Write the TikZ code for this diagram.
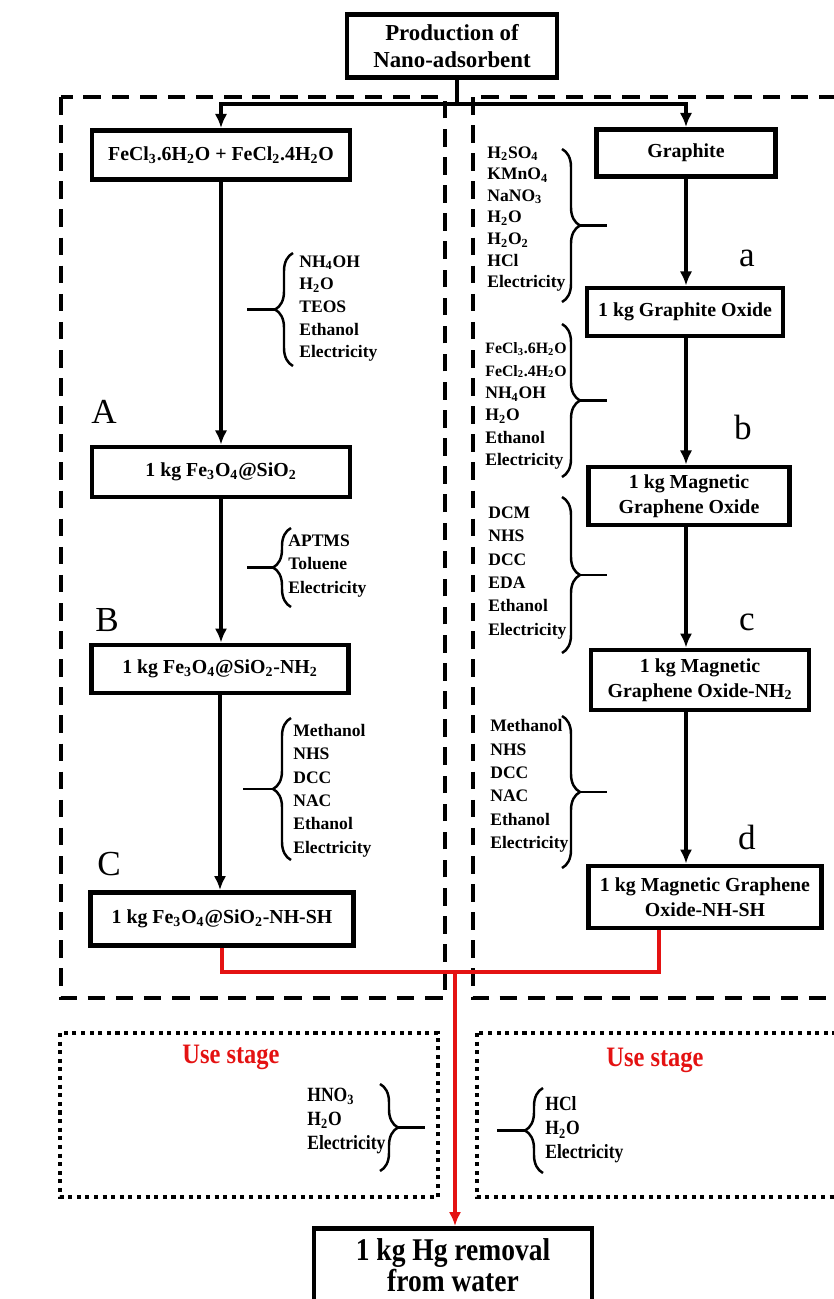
\documentclass[tikz,border=0pt]{standalone}
\usepackage{fontspec}
\setmainfont{Liberation Serif}
\newfontfamily\condfont[FakeStretch=0.87]{Liberation Serif}
\usetikzlibrary{arrows.meta,calc,positioning,decorations.pathreplacing}
\definecolor{usered}{RGB}{228,18,18}

\begin{document}
\begin{tikzpicture}[x=0.02cm, y=-0.02cm, >={Latex[length=8pt,width=7pt]},
box/.style = {draw, rectangle, line width=2.8pt, align=center, inner sep=2pt, font=\bfseries\fontsize{11.3}{14}\selectfont},
reag/.style = {align=left, inner sep=0pt, anchor=west},
steplabel/.style = {font=\fontsize{20}{20}\selectfont},
lbrace/.style = {decorate, decoration={brace, amplitude=0.36cm}, line width=1.4pt},
flow/.style = {line width=2.2pt, ->},
redflow/.style = {line width=2pt, draw=usered},
dashbox/.style = {line width=2.3pt, dash pattern=on 10pt off 6pt},
dotbox/.style = {line width=2.3pt, dash pattern=on 2.3pt off 2.6pt},
usetitle/.style = {text=usered, font=\condfont\bfseries\fontsize{16}{18}\selectfont},
                    ]
    \useasboundingbox (0,0) rectangle (833,1299);
    % production stage frames
    \draw[dashbox] (61,97) rectangle (445,998);
    \draw[dashbox] (473,97) rectangle (850,998);
    \node [box, minimum width=4.2cm, minimum height=1.26cm, font=\bfseries\fontsize{13}{15.3}\selectfont] (prod) at (452,46) {Production of\\Nano-adsorbent};
    % left route
    \node [box, minimum width=5.16cm, minimum height=0.98cm] (fecl) at (221,155) {FeCl\textsubscript{3}.6H\textsubscript{2}O + FeCl\textsubscript{2}.4H\textsubscript{2}O};
    \node [box, minimum width=5.16cm, minimum height=1cm]    (fesio) at (221,472) {1 kg Fe\textsubscript{3}O\textsubscript{4}@SiO\textsubscript{2}};
    \node [box, minimum width=5.14cm, minimum height=0.96cm] (fesinh) at (220,669) {1 kg Fe\textsubscript{3}O\textsubscript{4}@SiO\textsubscript{2}-NH\textsubscript{2}};
    \node [box, minimum width=5.26cm, minimum height=1.06cm] (fesish) at (222,919) {1 kg Fe\textsubscript{3}O\textsubscript{4}@SiO\textsubscript{2}-NH-SH};
    % right route
    \node [box, minimum width=3.58cm, minimum height=0.94cm] (graph) at (686,153) {Graphite};
    \node [box, minimum width=3.92cm, minimum height=0.96cm] (go) at (685,312) {1 kg Graphite Oxide};
    \node [box, minimum width=4.02cm, minimum height=1.16cm] (mgo) at (689,496) {1 kg Magnetic\\Graphene Oxide};
    \node [box, minimum width=4.36cm, minimum height=1.2cm]  (mgonh) at (700,680) {1 kg Magnetic\\Graphene Oxide-NH\textsubscript{2}};
    \node [box, minimum width=4.66cm, minimum height=1.24cm] (mgosh) at (705,897) {1 kg Magnetic Graphene\\Oxide-NH-SH};
    % final product
    \node [box, minimum width=5.56cm, minimum height=1.46cm, font=\condfont\bfseries\fontsize{18}{18}\selectfont] (hg) at (453,1265) {1 kg Hg removal\\from water};

    % step letters
    \node [steplabel] (labA) at (104,412) {A};
    \node [steplabel] (labB) at (107,620) {B};
    \node [steplabel] (labC) at (109,864) {C};
    \node [steplabel] (laba) at (747,258) {a};
    \node [steplabel] (labb) at (743,427) {b};
    \node [steplabel] (labc) at (747,622) {c};
    \node [steplabel] (labd) at (747,837) {d};

    % inputs, left route
    \node [reag, font=\bfseries\fontsize{10}{12.9}\selectfont] (reagA) at (299,308.5) {NH\textsubscript{4}OH\\H\textsubscript{2}O\\TEOS\\Ethanol\\Electricity};
    \node [reag, font=\bfseries\fontsize{10}{13.3}\selectfont] (reagB) at (288,566) {APTMS\\Toluene\\Electricity};
    \node [reag, font=\bfseries\fontsize{10}{13.3}\selectfont] (reagC) at (293,790.5) {Methanol\\NHS\\DCC\\NAC\\Ethanol\\Electricity};
    \draw[lbrace] (293,366) -- (293,253);
    \draw[line width=1.4pt] (275,309.5) -- (247,309.5);
    \draw[lbrace] (291,607) -- (291,528);
    \draw[line width=1.4pt] (273,567.5) -- (247,567.5);
    \draw[lbrace] (291,860) -- (291,718);
    \draw[line width=1.4pt] (273,789) -- (243,789);

    % inputs, right route
    \node [reag, font=\bfseries\fontsize{10}{12.3}\selectfont] (reaga) at (487,219) {H\textsubscript{2}SO\textsubscript{4}\\KMnO\textsubscript{4}\\NaNO\textsubscript{3}\\H\textsubscript{2}O\\H\textsubscript{2}O\textsubscript{2}\\HCl\\Electricity};
    \node [reag, font=\bfseries\fontsize{10}{12.7}\selectfont] (reagb) at (485,406) {{\fontsize{9}{12.7}\selectfont FeCl\textsubscript{3}.6H\textsubscript{2}O}\\{\fontsize{9}{12.7}\selectfont FeCl\textsubscript{2}.4H\textsubscript{2}O}\\NH\textsubscript{4}OH\\H\textsubscript{2}O\\Ethanol\\Electricity};
    \node [reag, font=\bfseries\fontsize{10}{13.3}\selectfont] (reagc) at (488,573) {DCM\\NHS\\DCC\\EDA\\Ethanol\\Electricity};
    \node [reag, font=\bfseries\fontsize{10}{13.3}\selectfont] (reagd) at (490,786) {Methanol\\NHS\\DCC\\NAC\\Ethanol\\Electricity};
    \draw[lbrace] (562,149) -- (562,302);
    \draw[line width=1.4pt] (580,225.5) -- (607,225.5);
    \draw[lbrace] (562,324) -- (562,477);
    \draw[line width=1.4pt] (580,400.5) -- (607,400.5);
    \draw[lbrace] (562,497) -- (562,653);
    \draw[line width=1.4pt] (580,575) -- (607,575);
    \draw[lbrace] (562,716) -- (562,868);
    \draw[line width=1.4pt] (580,792) -- (607,792);

    % flow arrows
    \coordinate (split) at (457,104);
    \draw[line width=2.2pt] (prod.south -| split) -- (split);
    \draw[flow] (split) -| (fecl.north);
    \draw[flow] (split) -| (graph.north);
    \draw[flow] (fecl.south)   -- (fecl.south |- fesio.north);
    \draw[flow] (fesio.south)  -- (fesio.south |- fesinh.north);
    \draw[flow] (fesinh.south) -- (fesinh.south |- fesish.north);
    \draw[flow] (graph.south)  -- (graph.south |- go.north);
    \draw[flow] (graph.south |- go.south)    -- (graph.south |- mgo.north);
    \draw[flow] (graph.south |- mgo.south)   -- (graph.south |- mgonh.north);
    \draw[flow] (graph.south |- mgonh.south) -- (graph.south |- mgosh.north);

    % use stage
    \draw[dotbox] (60,1033) rectangle (438,1197);
    \draw[dotbox] (477,1033) rectangle (850,1197);
    \node [usetitle] (usel) at (231,1057) {Use stage};
    \node [usetitle] (user) at (655,1060) {Use stage};
    \node [reag, font=\condfont\bfseries\fontsize{11.5}{13.6}\selectfont] (hno) at (307,1121) {HNO\textsubscript{3}\\H\textsubscript{2}O\\Electricity};
    \node [reag, font=\condfont\bfseries\fontsize{11.5}{13.6}\selectfont] (hcl) at (545,1130) {HCl\\H\textsubscript{2}O\\Electricity};
    \draw[lbrace] (380,1084) -- (380,1171);
    \draw[line width=1.4pt] (398,1127.5) -- (425,1127.5);
    \draw[lbrace] (543,1173) -- (543,1088);
    \draw[line width=1.4pt] (525,1130.5) -- (497,1130.5);

    % to the removal of Hg
    \coordinate (join) at (455,972);
    \draw[redflow] (fesish.south) |- (join);
    \draw[redflow] (join) -| ($(mgosh.south)+(-46,0)$);
    \draw[redflow, ->] (join) -- (join |- hg.north);
\end{tikzpicture}
\end{document}
